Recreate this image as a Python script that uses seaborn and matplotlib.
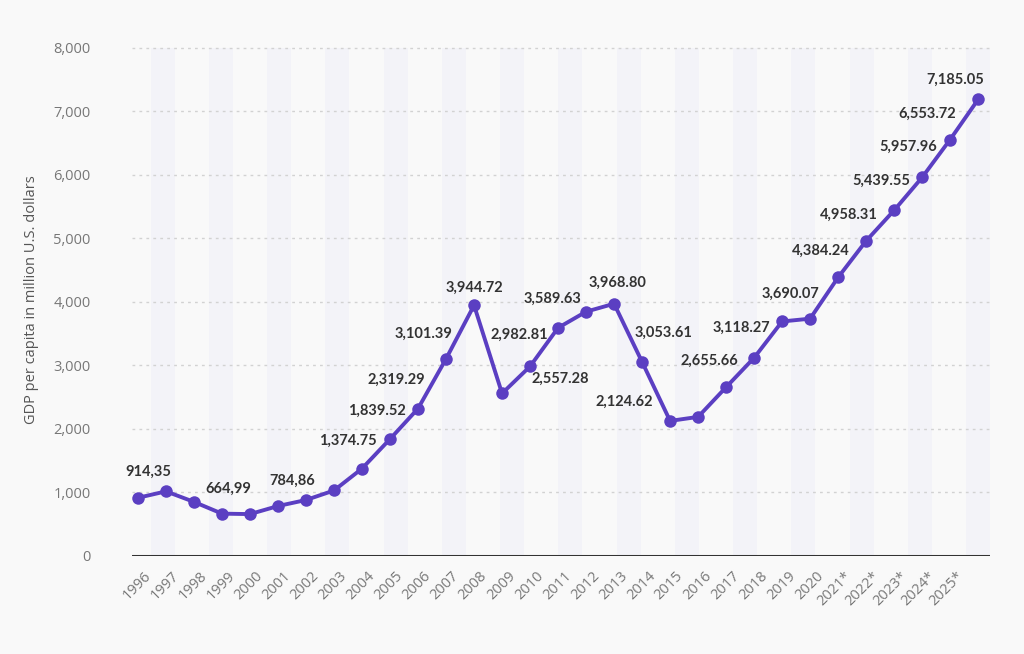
import numpy as np
import pandas as pd
import matplotlib
matplotlib.use("Agg")
import matplotlib.pyplot as plt
import seaborn as sns

# ---- data ----
tick_labels = ["1996", "1997", "1998", "1999", "2000", "2001", "2002", "2003", "2004",
               "2005", "2006", "2007", "2008", "2009", "2010", "2011", "2012", "2013",
               "2014", "2015", "2016", "2017", "2018", "2019", "2020", "2021*", "2022*",
               "2023*", "2024*", "2025*"]
values = [914.35, 1016, 850, 664.99, 658, 784.86, 880, 1030, 1374.75, 1839.52,
          2319.29, 3101.39, 3944.72, 2557.28, 2982.81, 3589.63, 3844, 3968.80,
          3053.61, 2124.62, 2188, 2655.66, 3118.27, 3690.07, 3734, 4384.24,
          4958.31, 5439.55, 5957.96, 6553.72, 7185.05]
point_labels = ["914,35", "", "", "664,99", "", "784,86", "", "", "1,374.75", "1,839.52",
                "2,319.29", "3,101.39", "3,944.72", "2,557.28", "2,982.81", "3,589.63", "",
                "3,968.80", "3,053.61", "2,124.62", "", "2,655.66", "3,118.27", "3,690.07",
                "", "4,384.24", "4,958.31", "5,439.55", "5,957.96", "6,553.72", "7,185.05"]
y_ticks = [0, 1000, 2000, 3000, 4000, 5000, 6000, 7000, 8000]
y_label = "GDP per capita in million U.S. dollars"

# ---- styling (label offsets in pixels) ----
label_offsets = [(10, 26), None, None, (6, 25), None, (14, 25), None, None, (-14, 28), (-13, 28),
                 (-22, 29), (-23, 25), (0, 17), (58, 15), (-11, 32), (-6, 29), None,
                 (3, 21), (21, 29), (-46, 19), None, (-17, 26), (-13, 30), (8, 28),
                 None, (-17, 27), (-17, 26), (-13, 30), (-14, 31), (-23, 26), (-23, 20)]
LINE = "#5b3fc2"
BG = "#f9f9f9"
STRIPE = "#f3f3f8"

sns.set_theme(style="white")
plt.rcParams["font.family"] = ["Open Sans", "DejaVu Sans"]

fig = plt.figure(figsize=(10.24, 6.54), dpi=100, facecolor=BG)
ax = fig.add_axes([0.129, 0.150, 0.838, 0.783])
ax.set_facecolor(BG)

idx = np.arange(len(values))
df = pd.DataFrame({"x": idx, "value": values})

# background stripes (band scale over the tick labels)
n_bands = len(tick_labels)
band_w = 1.04
band_centers = idx[-1] - (n_bands - 1 - np.arange(n_bands)) * band_w
for i, c in enumerate(band_centers):
    if i % 2 == 1:
        ax.axvspan(c - 0.41 * band_w, c + 0.41 * band_w, ymin=0, ymax=8000 / 8060,
                   color=STRIPE, lw=0, zorder=0)

# gridlines
for t in y_ticks[1:]:
    ax.axhline(t, color="#d2d2d2", lw=1, ls=(0, (2, 3)), zorder=1)
ax.axhline(0, color="#333333", lw=2.2, zorder=3)

sns.lineplot(data=df, x="x", y="value", ax=ax, color=LINE, lw=2.8, marker="o",
             markersize=9, markeredgewidth=0, zorder=4)

for i, (v, lab) in enumerate(zip(values, point_labels)):
    if lab and label_offsets[i] is not None:
        dx, dy = label_offsets[i]
        ax.annotate(lab, (i, v), xytext=(dx, dy), textcoords="offset pixels",
                    ha="center", va="center", fontsize=10.5, fontweight="bold",
                    color="#333333", family=["Lato", "DejaVu Sans"], zorder=5)

ax.set_xlim(-0.21, 30.43)
ax.set_ylim(0, 8060)
ax.set_yticks(y_ticks)
ax.set_yticklabels([f"{t:,}" for t in y_ticks], color="#777777", fontsize=10.5)
ax.set_xticks(np.arange(len(tick_labels)) + 0.2)
ax.set_xticklabels(tick_labels, rotation=45, ha="right", rotation_mode="anchor",
                   color="#777777", fontsize=10.5)
ax.tick_params(axis="both", length=0)
ax.tick_params(axis="y", pad=30)
ax.tick_params(axis="x", pad=9)
ax.set_xlabel("")
ax.set_ylabel(y_label, color="#555555", fontsize=10.5, labelpad=10)
for s in ax.spines.values():
    s.set_visible(False)

fig.savefig("out.png", dpi=100, facecolor=BG)
